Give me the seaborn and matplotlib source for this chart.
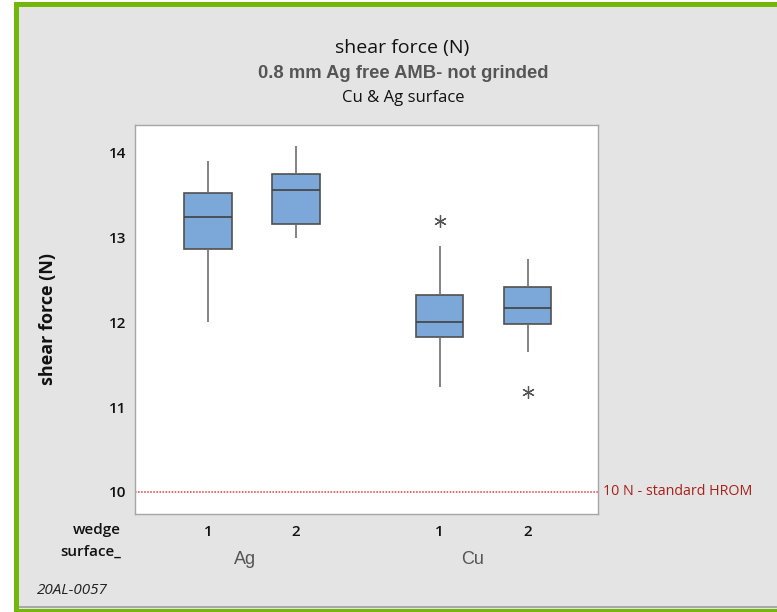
import numpy as np
import pandas as pd
import seaborn as sns
import matplotlib
matplotlib.use("Agg")
import matplotlib.pyplot as plt
import matplotlib.transforms as mtransforms
from matplotlib.patches import Rectangle

# ---- data ----
surfaces = ["Ag", "Ag", "Cu", "Cu"]
wedges = ["1", "2", "1", "2"]
positions = [1.0, 2.0, 3.63, 4.63]
ag_w1 = [12.00, 12.60, 12.87, 13.05, 13.24, 13.40, 13.53, 13.70, 13.90]
ag_w2 = [13.00, 13.10, 13.16, 13.40, 13.56, 13.65, 13.75, 13.90, 14.08]
cu_w1 = [11.24, 11.60, 11.83, 11.90, 12.00, 12.15, 12.32, 12.90, 13.20]
cu_w2 = [11.18, 11.65, 11.98, 12.05, 12.17, 12.30, 12.42, 12.60, 12.75]
groups = [ag_w1, ag_w2, cu_w1, cu_w2]
y_ticks = [10, 11, 12, 13, 14]
limit_value = 10
limit_label = "10 N - standard HROM"

rows = []
for pos, vals in zip(positions, groups):
    for v in vals:
        rows.append({"pos": pos, "val": v})
df = pd.DataFrame(rows)

sns.set_theme(style="white")
plt.rcParams['font.family'] = ['Open Sans', 'DejaVu Sans']

W, H = 777, 612
fig = plt.figure(figsize=(W / 100, H / 100), dpi=100)
fig.patch.set_facecolor("white")

def fx(px):
    return px / W

def fy(py):
    return 1 - py / H

# panel background and borders
fig.patches.append(Rectangle((fx(14), fy(609)), fx(777 - 14), 607 / H,
                             transform=fig.transFigure, facecolor="#e4e4e4",
                             edgecolor="none", zorder=-10))
fig.patches.append(Rectangle((fx(14), fy(609)), fx(5), 607 / H,
                             transform=fig.transFigure, facecolor="#72b70a",
                             edgecolor="none", zorder=-9))
fig.patches.append(Rectangle((fx(14), fy(7)), fx(777 - 14), 5 / H,
                             transform=fig.transFigure, facecolor="#72b70a",
                             edgecolor="none", zorder=-9))
fig.patches.append(Rectangle((fx(19), fy(608)), fx(777 - 19), 2 / H,
                             transform=fig.transFigure, facecolor="#a8a8a8",
                             edgecolor="none", zorder=-9))
fig.patches.append(Rectangle((fx(14), fy(612)), fx(777 - 14), 3 / H,
                             transform=fig.transFigure, facecolor="#72b70a",
                             edgecolor="none", zorder=-9))

ax = fig.add_axes([fx(135), fy(514), fx(598 - 135), (514 - 125) / H])
ax.set_facecolor("white")

sns.boxplot(data=df, x="pos", y="val", native_scale=True, width=0.54,
            color="#7ba7d9", saturation=1, linecolor="#505050", linewidth=1.2,
            showcaps=False,
            whiskerprops=dict(color="#6e6e6e", linewidth=1.2),
            medianprops=dict(color="#404040", linewidth=1.2),
            flierprops=dict(marker=(6, 2, 0), markersize=9,
                            markeredgecolor="#555555", markerfacecolor="none",
                            markeredgewidth=0.9),
            ax=ax)

ax.axhline(limit_value, color="#e8393b", linestyle=(0, (1, 1)), linewidth=1.1)

ax.set_xlim(0.17, 5.43)
ax.set_ylim(9.74, 14.33)
ax.set_xticks(positions)
ax.set_xticklabels(wedges)
ax.set_yticks(y_ticks)
ax.set_yticklabels([str(t) for t in y_ticks])
ax.set_xlabel("")
ax.set_ylabel("")
for s in ax.spines.values():
    s.set_color("#a6a6a6")
    s.set_linewidth(1.0)
ax.tick_params(axis="both", direction="out", length=4, width=0.8,
               color="#a6a6a6", labelsize=11, labelcolor="#111111")
ax.tick_params(axis="x", pad=4)
ax.tick_params(axis="y", pad=2)
for lab in ax.get_xticklabels() + ax.get_yticklabels():
    lab.set_fontweight("semibold")

# limit label
ax.text(1.01, limit_value, limit_label, transform=ax.get_yaxis_transform(),
        ha="left", va="center", color="#a8201a", fontsize=10.3)

# titles
fig.text(fx(402), fy(48), "shear force (N)", ha="center", va="center",
         fontsize=14, color="#111111")
fig.text(fx(403), fy(74), "0.8 mm Ag free AMB- not grinded", ha="center",
         va="center", fontsize=13.2, fontweight="bold", color="#555555",
         family=["Liberation Sans", "DejaVu Sans"])
fig.text(fx(403), fy(98), "Cu & Ag surface", ha="center", va="center",
         fontsize=12, color="#111111")

# y label
fig.text(fx(48), fy(319), "shear force (N)", ha="center", va="center",
         rotation=90, fontsize=13, fontweight="bold", color="#111111")

# x row labels
fig.text(fx(121), fy(530), "wedge", ha="right", va="center", fontsize=11,
         fontweight="semibold", color="#111111")
fig.text(fx(121), fy(552), "surface_", ha="right", va="center", fontsize=11,
         fontweight="semibold", color="#111111")
blend = mtransforms.blended_transform_factory(ax.transData, fig.transFigure)
for name, xc in zip(["Ag", "Cu"], [1.42, 4.01]):
    ax.text(xc, fy(560), name, transform=blend,
            ha="center", va="center", fontsize=13, color="#555555",
            family=["Liberation Sans", "DejaVu Sans"])

fig.text(fx(37), fy(590), "20AL-0057", ha="left", va="center", fontsize=11,
         fontstyle="italic", color="#222222")

fig.savefig("out.png", dpi=100)
